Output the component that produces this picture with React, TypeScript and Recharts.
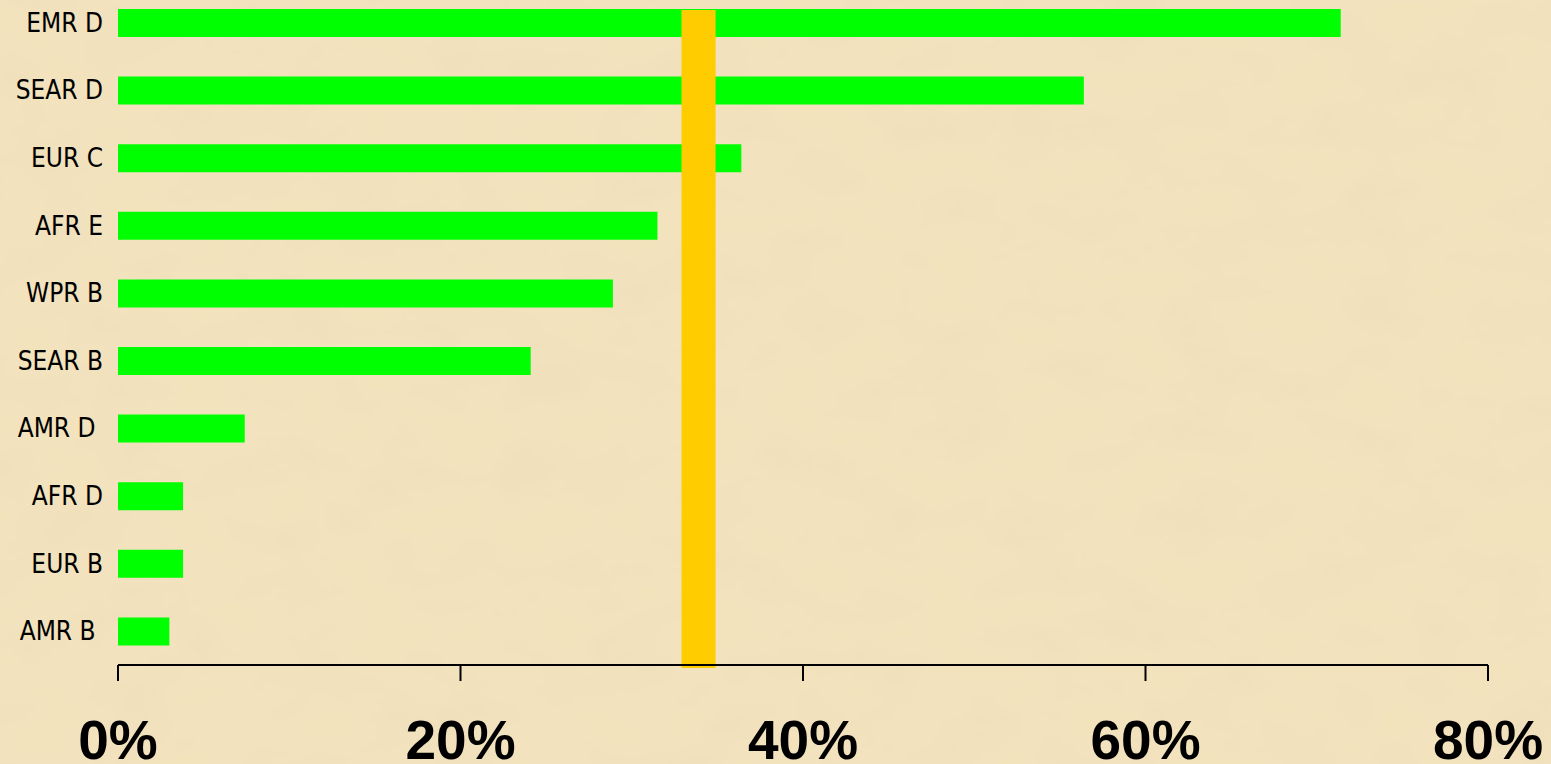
import React from 'react';
import { BarChart, Bar, XAxis, YAxis, ReferenceLine } from 'recharts';

const regions = ['EMR D', 'SEAR D', 'EUR C', 'AFR E', 'WPR B', 'SEAR B', 'AMR D ', 'AFR D', 'EUR B', 'AMR B '];
const shares = [71.4, 56.4, 36.4, 31.5, 28.9, 24.1, 7.4, 3.8, 3.8, 3.0];
const xTicks = [0, 20, 40, 60, 80];
const markerValue = 33.9;

const data = regions.map((region, i) => ({ region, share: shares[i] }));

const RegionTick = (props: any) => {
  const { x, y, payload } = props;
  return (
    <text
      x={x}
      y={y}
      dy={9}
      textAnchor="end"
      fill="#000"
      fontSize={26}
      fontFamily="'DejaVu Sans Condensed', Tahoma, 'DejaVu Sans', sans-serif"
      style={{ whiteSpace: 'pre' }}
    >
      {payload.value}
    </text>
  );
};

const PercentTick = (props: any) => {
  const { x, y, payload } = props;
  return (
    <text
      x={x}
      y={y + 76}
      textAnchor="middle"
      fill="#000"
      fontSize={55}
      fontWeight="bold"
      fontFamily="'Liberation Sans', Arial, sans-serif"
    >
      {`${payload.value}%`}
    </text>
  );
};

// thick marker bar, a bit shorter at the top like the original slide
const MarkerShape = (props: any) => {
  const { x1, y1, y2 } = props;
  const top = Math.min(y1, y2);
  const bottom = Math.max(y1, y2);
  return <rect x={x1 - 17} y={top + 21} width={34} height={bottom - top - 18} fill="#ffcc00" />;
};

export default function App() {
  return (
    <div
      style={{
        position: 'absolute',
        left: 0,
        top: 0,
        width: 1551,
        height: 764,
        overflow: 'hidden',
        background: '#f2e2bb',
      }}
    >
      <svg width={1551} height={764} style={{ position: 'absolute', left: 0, top: 0 }}>
        <filter id="paper">
          <feTurbulence type="fractalNoise" baseFrequency="0.012 0.02" numOctaves={4} seed={7} />
          <feColorMatrix
            type="matrix"
            values="0 0 0 0 0.85  0 0 0 0 0.72  0 0 0 0 0.5  0 0 0 0.9 -0.25"
          />
        </filter>
        <rect width={1551} height={764} fill="#f3e3bd" />
        <rect width={1551} height={764} filter="url(#paper)" />
      </svg>
      <div style={{ position: 'absolute', left: 0, top: -11 }}>
        <BarChart
          width={1551}
          height={775}
          data={data}
          layout="vertical"
          margin={{ top: 0, right: 63, bottom: 0, left: 0 }}
        >
          <XAxis
            type="number"
            domain={[0, 80]}
            ticks={xTicks}
            axisLine={{ stroke: '#000', strokeWidth: 2 }}
            tickLine={{ stroke: '#000', strokeWidth: 2 }}
            tickSize={16}
            tick={<PercentTick />}
            height={99}
            interval={0}
          />
          <YAxis
            type="category"
            dataKey="region"
            width={118}
            axisLine={false}
            tickLine={false}
            tick={<RegionTick />}
            tickMargin={9}
            interval={0}
          />
          <Bar dataKey="share" fill="#00ff00" barSize={28} isAnimationActive={false} />
          <ReferenceLine x={markerValue} ifOverflow="visible" shape={<MarkerShape />} />
        </BarChart>
      </div>
    </div>
  );
}
